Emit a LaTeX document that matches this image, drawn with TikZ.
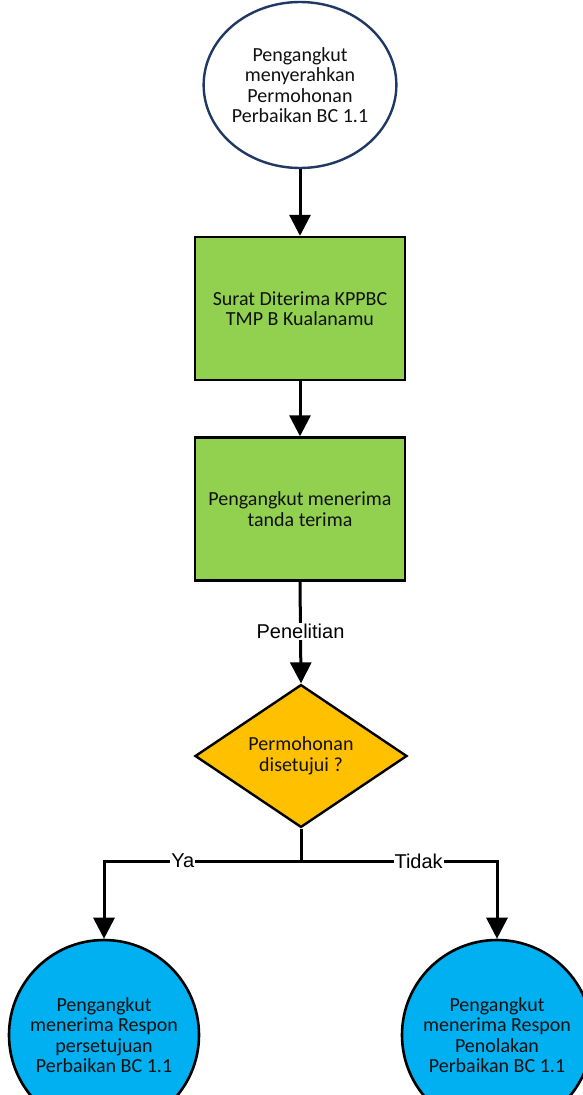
\documentclass[tikz,border=0pt]{standalone}
\usepackage{fontspec}
\setmainfont{Carlito}
\newfontfamily\lblfont{Liberation Sans}
\usetikzlibrary{shapes.geometric,arrows.meta}
\definecolor{boxgreen}{HTML}{92D050}
\definecolor{decorange}{HTML}{FFC000}
\definecolor{endblue}{HTML}{00B0F0}
\definecolor{navyline}{HTML}{1F3864}
\definecolor{txt}{HTML}{111111}
\tikzset{
  x=1pt, y=-1pt,
  every node/.style={font=\fontsize{20}{20.5}\selectfont, text=txt, align=center, inner sep=0pt},
  startell/.style={ellipse, draw=navyline, line width=2.4pt, fill=white, minimum width=184pt, minimum height=166pt},
  procbox/.style={rectangle, draw=black, line width=2.4pt, fill=boxgreen, minimum width=210pt, minimum height=143pt},
  decbox/.style={diamond, draw=black, line width=2.4pt, fill=decorange, minimum width=212pt, minimum height=140pt},
  endcirc/.style={circle, draw=black, line width=2.6pt, fill=endblue, minimum size=190pt},
  conn/.style={line width=3pt, draw=black},
  arr/.style={conn, -{Triangle[width=21pt,length=21pt]}},
  lbl/.style={font=\lblfont\fontsize{20}{23}\selectfont, text=black, fill=white, inner sep=1pt}
}
\begin{document}
\begin{tikzpicture}
\clip (0,0) rectangle (583,1095);
\fill[white] (0,0) rectangle (583,1095);
\node[startell] (start) at (300,85) {Pengangkut\\menyerahkan\\Permohonan\\Perbaikan BC 1.1};
\node[procbox] (surat) at (300,308.5) {Surat Diterima KPPBC\\TMP B Kualanamu};
\node[procbox] (tanda) at (300,509) {Pengangkut menerima\\tanda terima};
\node[decbox] (dec) at (301,756) {Permohonan\\disetujui ?};
\node[endcirc] (ya) at (104,1035) {Pengangkut\\menerima Respon\\persetujuan\\Perbaikan BC 1.1};
\node[endcirc] (tidak) at (497,1035) {Pengangkut\\menerima Respon\\Penolakan\\Perbaikan BC 1.1};
\coordinate (j) at (301,861);
\coordinate (jl) at (104,861);
\coordinate (jr) at (497,861);
\draw[arr] (start.south) -- (surat.north);
\draw[arr] (surat.south) -- (tanda.north);
\draw[arr] (tanda.south) -- node[lbl, pos=0.49] (pen) {Penelitian} (dec.north);
\draw[conn] (dec.south) -- (j);
\draw[arr] (j) -- node[lbl, pos=0.6] (ylbl) {Ya} (jl) -- (ya.north);
\draw[arr] (j) -- node[lbl, pos=0.6] (tlbl) {Tidak} (jr) -- (tidak.north);
\end{tikzpicture}
\end{document}
